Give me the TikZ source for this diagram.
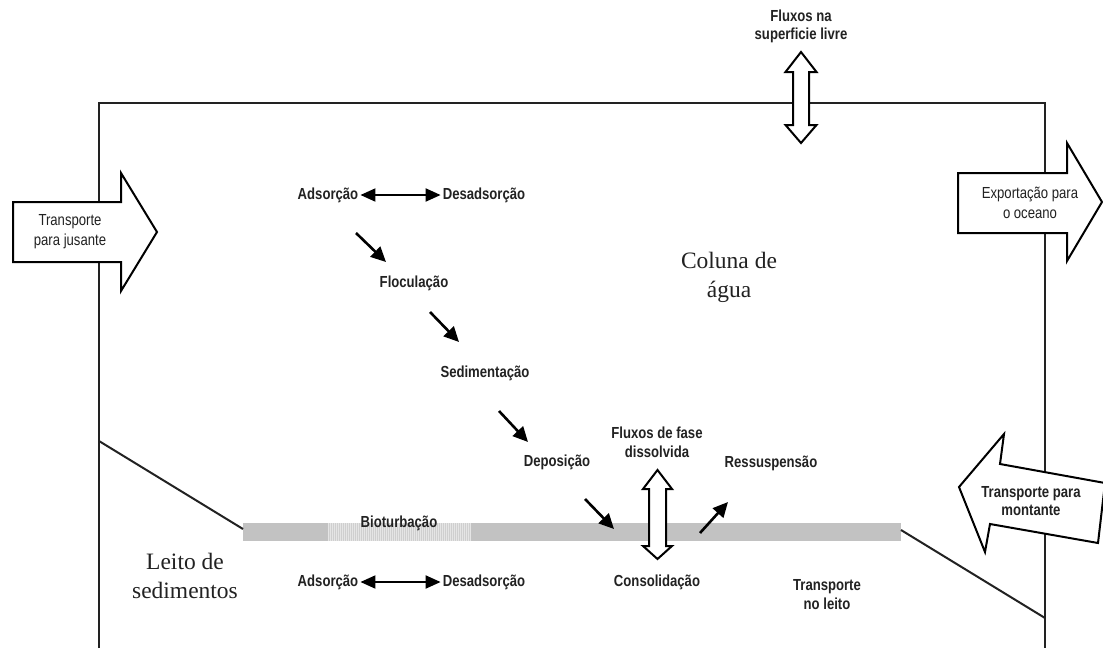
\documentclass[tikz,border=0pt]{standalone}
\usepackage{fontspec}
\setmainfont{Liberation Serif}
\newfontfamily\narrowb[FakeStretch=0.82]{Liberation Sans Bold}
\newfontfamily\narrowr[FakeStretch=0.82]{Liberation Sans}
\usetikzlibrary{arrows.meta}
\definecolor{ink}{HTML}{222222}
\tikzset{
  lbl/.style={font=\narrowb\fontsize{16}{19}\selectfont, text=ink, align=center, inner sep=0pt},
  lblr/.style={font=\narrowr\fontsize{16}{20}\selectfont, text=ink, align=center, inner sep=0pt},
  serifbig/.style={font=\fontsize{23.5}{29}\selectfont, text=ink, align=center, inner sep=0pt},
  wall/.style={draw=ink, line width=2pt},
  bigarrow/.style={draw=black, line width=2pt, fill=white, line join=miter},
  darrow/.style={line width=2pt, shorten <=2pt, shorten >=2pt,
    {Triangle[length=15pt,width=13pt]}-{Triangle[length=15pt,width=13pt]}},
  sarrow/.style={line width=2.6pt, -{Triangle[length=15pt,width=14pt]}},
}
\begin{document}
\begin{tikzpicture}[x=1pt,y=-1pt]
\useasboundingbox (0,0) rectangle (1103,648);
\fill[white] (0,0) rectangle (1103,648);

% walls of the box
\draw[wall, line join=miter] (99,648) -- (99,103) -- (1045,103) -- (1045,648);

% bed band
\fill[black!24] (243,523) rectangle (328,541);
\fill[black!10] (328,523) rectangle (471,541);
\foreach \x in {329,331,...,470} \draw[black!19, line width=0.6pt] (\x,523) -- (\x,541);
\fill[black!24] (471,523) rectangle (901,541);

% sloped bed lines
\draw[wall] (99,441) -- (243,529);
\draw[wall] (901,530) -- (1045,618);

% big transport arrows
\draw[bigarrow] (13,202) -- (121,202) -- (121,173) -- (157,232) -- (121,291) -- (121,262) -- (13,262) -- cycle;
\draw[bigarrow] (958,173) -- (1067,173) -- (1067,143) -- (1102,202) -- (1067,261) -- (1067,233) -- (958,233) -- cycle;
\draw[bigarrow] (959,487) -- (1004,434) -- (1000,464) -- (1105,483) -- (1098,543) -- (990,524) -- (985,552) -- cycle;

% hollow double arrows
\draw[bigarrow] (801,52) -- (816.5,72) -- (809,72) -- (809,125) -- (816.5,125) -- (801,143)
  -- (785.5,125) -- (793,125) -- (793,72) -- (785.5,72) -- cycle;
\draw[bigarrow] (657.5,470) -- (672,489) -- (666,489) -- (666,546) -- (672,546) -- (657.5,559)
  -- (643,546) -- (649,546) -- (649,489) -- (643,489) -- cycle;

% labels
\node[lbl, font=\narrowb\fontsize{16}{18}\selectfont] (fsup) at (801,26) {Fluxos na\\superficie livre};
\node[lblr] (tjus) at (70,232) {Transporte\\para jusante};
\node[lblr] (expo) at (1030,203) {Exportação para\\o oceano};
\node[lbl, font=\narrowb\fontsize{16}{18}\selectfont] (tmon) at (1031,501) {Transporte para\\montante};
\node[lbl] (ads1) at (328,195) {Adsorção};
\node[lbl] (des1) at (484,195) {Desadsorção};
\node[lbl] (floc) at (414,283) {Floculação};
\node[lbl] (sedi) at (485,373) {Sedimentação};
\node[lbl] (depo) at (557,462) {Deposição};
\node[lbl] (fdis) at (657,442) {Fluxos de fase\\dissolvida};
\node[lbl] (ress) at (771,463) {Ressuspensão};
\node[lbl] (biot) at (399,523) {Bioturbação};
\node[lbl] (ads2) at (328,582) {Adsorção};
\node[lbl] (des2) at (484,582) {Desadsorção};
\node[lbl] (cons) at (657,582) {Consolidação};
\node[lbl] (tlei) at (827,595) {Transporte\\no leito};
\node[serifbig] (leit) at (185,576) {Leito de\\sedimentos};
\node[serifbig] (colu) at (729,277) {Coluna de\\água};

% double arrows between adsorption / desorption
\draw[darrow] (ads1.east) -- (des1.west);
\draw[darrow] (ads2.east) -- (des2.west);

% process arrows
\coordinate (p1s) at (356,233); \coordinate (p1e) at (386,262);
\coordinate (p2s) at (430,312); \coordinate (p2e) at (459,342);
\coordinate (p3s) at (499,411); \coordinate (p3e) at (528,442);
\coordinate (p4s) at (585,499); \coordinate (p4e) at (614,529);
\coordinate (p5s) at (700,533); \coordinate (p5e) at (728,502);
\draw[sarrow] (p1s) -- (p1e);
\draw[sarrow] (p2s) -- (p2e);
\draw[sarrow] (p3s) -- (p3e);
\draw[sarrow] (p4s) -- (p4e);
\draw[sarrow] (p5s) -- (p5e);
\end{tikzpicture}
\end{document}
